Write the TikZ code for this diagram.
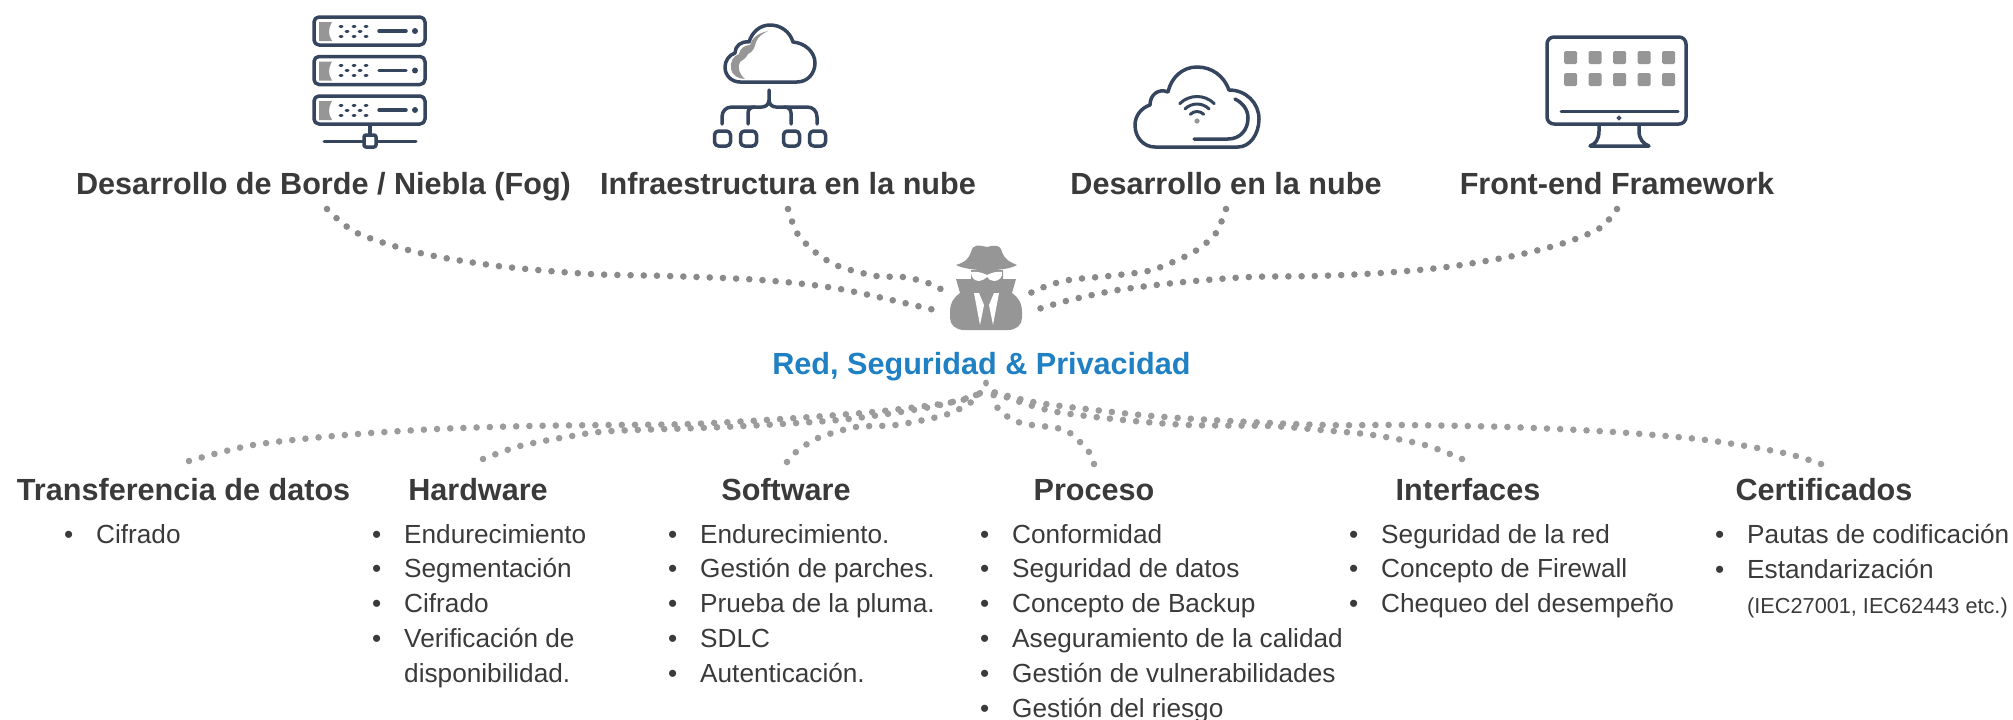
\documentclass[tikz,border=0pt]{standalone}
\usepackage{fontspec}
\setmainfont{Liberation Sans}
\definecolor{iconblue}{HTML}{35455E}
\definecolor{icongray}{HTML}{969696}
\definecolor{dotdark}{HTML}{8A8A8A}
\definecolor{dotlight}{HTML}{9C9C9C}
\definecolor{txtgray}{HTML}{3A3A3A}
\definecolor{redblue}{HTML}{1F80C4}
\newcommand{\blt}{\makebox[32pt][l]{\textbullet}}
\tikzset{
  headtxt/.style={font=\fontsize{30.6pt}{34pt}\selectfont\bfseries, text=txtgray, inner sep=0pt, anchor=base},
  itemtxt/.style={font=\fontsize{26.2pt}{34.8pt}\selectfont, text=txtgray, inner sep=0pt, align=left, anchor=north west},
  dotline/.style={draw=dotlight, line width=6.6pt, line cap=round, dash pattern=on 0pt off 13.2pt},
  icon/.style={draw=iconblue, line width=3.5pt, line cap=round, line join=round},
}
\begin{document}
\begin{tikzpicture}[x=1pt, y=-1pt]
\useasboundingbox (0,0) rectangle (2013,720);
% server icon
\foreach \y in {17,56.5,96}{
  \draw[icon, rounded corners=5pt] (314,\y) rectangle (425,\y+28);
  \fill[icongray] (319,\y+5) -- (332,\y+5) .. controls (328,\y+12) and (328,\y+18) .. (332,\y+24) -- (319,\y+24) -- cycle;
  \foreach \x in {341,354,366}{
    \draw[icon, line width=3pt] (\x-1,\y+9) -- (\x+1,\y+9) (\x-1,\y+19) -- (\x+1,\y+19);
  }
  \foreach \x in {347,360}{
    \draw[icon, line width=3pt] (\x-1,\y+14) -- (\x+1,\y+14);
  }
  \draw[icon] (379,\y+14) -- (406,\y+14);
  \fill[iconblue] (415,\y+14) circle (3pt);
}
\draw[icon, line width=3pt] (324,141) -- (416,141);
\draw[icon] (370,126) -- (370,134);
\draw[icon, fill=white, rounded corners=2pt] (364,135) rectangle (376,147);
% cloud with network
\fill[icongray] (768,31) .. controls (758,33) and (752,38) .. (750,45) .. controls (744,45) and (740,49) .. (739,54)
  .. controls (733,56) and (730,62) .. (731,69) .. controls (732,75) and (738,79) .. (745,79)
  .. controls (739,74) and (737,67) .. (740,62) .. controls (743,60) and (746,58) .. (748,54)
  .. controls (753,52) and (755,47) .. (756,42) .. controls (758,37) and (763,33) .. (768,31) -- cycle;
\draw[icon] (740,82) -- (797,82) .. controls (808,82) and (815,73) .. (815,63) .. controls (815,52) and (805,43) .. (793,42)
  .. controls (790,32) and (781,25) .. (770,25) .. controls (760,25) and (752,32) .. (749,42)
  .. controls (741,41) and (735,46) .. (735,53) .. controls (729,55) and (725,61) .. (725,67) .. controls (725,76) and (732,82) .. (740,82) -- cycle;
\draw[icon] (769,90) -- (769,100) .. controls (769,104) and (766,107) .. (762,107) -- (732,107) .. controls (726,107) and (722,111) .. (722,117) -- (722,124);
\draw[icon] (769,100) .. controls (769,104) and (772,107) .. (776,107) -- (807,107) .. controls (813,107) and (817,111) .. (817,117) -- (817,124);
\draw[icon] (748,124) -- (748,113) .. controls (748,109) and (751,107) .. (755,107);
\draw[icon] (791,124) -- (791,113) .. controls (791,109) and (788,107) .. (784,107);
\foreach \x in {714.5,740.5,783.5,809.5}{
  \draw[icon, rounded corners=4pt] (\x,131) rectangle (\x+16,146);
}
% cloud with wifi
\draw[icon] (1155,147) -- (1238,147) .. controls (1250,147) and (1259,134) .. (1259,119) .. controls (1259,103) and (1246,90) .. (1229,90)
  .. controls (1224,76) and (1212,67) .. (1197,67) .. controls (1182,67) and (1171,78) .. (1168,92)
  .. controls (1158,88) and (1150,95) .. (1150,105) .. controls (1141,108) and (1135,116) .. (1135,125) .. controls (1135,138) and (1144,147) .. (1155,147) -- cycle;
\draw[icon] (1194,139) -- (1228,139) .. controls (1240,139) and (1248,130) .. (1248,118) .. controls (1248,110) and (1243,103) .. (1235,99);
\foreach \r in {9.5,17,24.5}{
  \draw[icon, line width=3pt] (1197-.707*\r,121-.707*\r) .. controls (1197-.317*\r,121-1.097*\r) and (1197+.317*\r,121-1.097*\r) .. (1197+.707*\r,121-.707*\r);
}
\fill[icongray] (1197,121) circle (2.6pt);
% monitor
\draw[icon, rounded corners=7pt] (1547,37) rectangle (1686,124);
\foreach \x in {1564,1588.5,1613,1637.5,1662}{
  \foreach \y in {51,73}{
    \fill[icongray, rounded corners=1.5pt] (\x,\y) rectangle (\x+13,\y+13);
  }
}
\draw[icon, line width=3pt] (1561,111) -- (1678,111);
\draw[iconblue, line width=1.5pt] (1619,118) circle (1.6pt);
\draw[icon] (1599,125) -- (1599,131) .. controls (1599,140) and (1595,144) .. (1590,146) -- (1649,146) .. controls (1644,144) and (1639,140) .. (1639,131) -- (1639,125);
% spy
\fill[icongray] (956,265) .. controls (965,262) and (968,260) .. (971,252) .. controls (973,244) and (978,245) .. (987,247)
  .. controls (995,245) and (1000,244) .. (1002,252) .. controls (1005,260) and (1010,262) .. (1017,265)
  .. controls (1005,272) and (970,272) .. (956,265) -- cycle;
\fill[icongray, rounded corners=0pt] (971,270) -- (1003,270) -- (1003,279) -- (1016,279) -- (1012,293)
  .. controls (1018,297) and (1022,303) .. (1022,312) -- (1022,318) .. controls (1022,325) and (1016,330) .. (1008,330)
  -- (964,330) .. controls (956,330) and (950,325) .. (950,318) -- (950,312) .. controls (950,303) and (954,297) .. (960,293)
  -- (956,279) -- (971,279) -- cycle;
\fill[white] (971,272) .. controls (977,271) and (983,273) .. (987,275) .. controls (991,273) and (997,271) .. (1002,272)
  .. controls (1003,277) and (999,281) .. (994,281) .. controls (991,281) and (988,279) .. (987,277)
  .. controls (985,279) and (982,281) .. (979,281) .. controls (974,281) and (971,277) .. (971,272) -- cycle;
\fill[white] (974,293) -- (979,293) -- (984,305) -- (980,325) -- cycle;
\fill[white] (999,293) -- (994,293) -- (989,305) -- (993,325) -- cycle;
% labels
\node[headtxt] (edge) at (323.5,194) {Desarrollo de Borde / Niebla (Fog)};
\node[headtxt] (infra) at (788,194) {Infraestructura en la nube};
\node[headtxt] (cloud) at (1226,194) {Desarrollo en la nube};
\node[headtxt] (front) at (1617,194) {Front-end Framework};
\node[headtxt, text=redblue] (red) at (981.5,374) {Red, Seguridad \& Privacidad};
\node[headtxt] (datos) at (183.6,500) {Transferencia de datos};
\node[headtxt] (hard) at (478,500) {Hardware};
\node[headtxt] (soft) at (786,500) {Software};
\node[headtxt] (proc) at (1094,500) {Proceso};
\node[headtxt] (inter) at (1468,500) {Interfaces};
\node[headtxt] (cert) at (1824,500) {Certificados};
\node[itemtxt] (datositems) at (64,524) {\blt Cifrado};
\node[itemtxt] (harditems) at (372,524) {\blt Endurecimiento\\\blt Segmentación\\\blt Cifrado\\\blt Verificación de\\\hspace*{32pt}disponibilidad.};
\node[itemtxt] (softitems) at (668,524) {\blt Endurecimiento.\\\blt Gestión de parches.\\\blt Prueba de la pluma.\\\blt SDLC\\\blt Autenticación.};
\node[itemtxt] (procitems) at (980,524) {\blt Conformidad\\\blt Seguridad de datos\\\blt Concepto de Backup\\\blt Aseguramiento de la calidad\\\blt Gestión de vulnerabilidades\\\blt Gestión del riesgo};
\node[itemtxt] (interitems) at (1349,524) {\blt Seguridad de la red\\\blt Concepto de Firewall\\\blt Chequeo del desempeño};
\node[itemtxt] (certitems) at (1715,524) {\blt Pautas de codificación\\\blt Estandarización\\\hspace*{32pt}{\fontsize{21.7pt}{34.8pt}\selectfont (IEC27001, IEC62443 etc.)}};
% free ends of the dotted lines
\coordinate (spyleft) at (943,312);
\coordinate (spyinner) at (952,295);
\coordinate (spyright) at (1029,312);
\coordinate (spyrinner) at (1020,298);
\coordinate (hub) at (986,383);
\coordinate (hubleft) at (980,393);
\coordinate (hubright) at (993,392);
\coordinate (edgeend) at (327,209);
\coordinate (infraend) at (788,209);
\coordinate (cloudend) at (1226,209);
\coordinate (frontend) at (1617,209);
\coordinate (datosend) at (189,461);
\coordinate (hardend) at (483,459);
\coordinate (softend) at (787,462);
\coordinate (procend) at (1094,464);
\coordinate (interend) at (1462,459);
\coordinate (certend) at (1821,464);
\draw[dotline, draw=dotdark] plot [smooth] coordinates {(edgeend) (357,233) (420,253) (498,266) (590,274) (668,276) (761,280) (840,289) (spyleft)};
\draw[dotline, draw=dotdark] plot [smooth] coordinates {(infraend) (797,233) (815,252) (838,266) (876,276) (903,277) (928,283) (spyinner)};
\draw[dotline, draw=dotdark] plot [smooth] coordinates {(cloudend) (1216,233) (1197,250) (1173,262) (1148,271) (1109,276) (1069,280) (1044,287) (spyrinner)};
\draw[dotline, draw=dotdark] plot [smooth] coordinates {(frontend) (1600,228) (1564,243) (1513,256) (1447,267) (1381,273) (1316,276) (1250,277) (1184,282) (1118,290) (1066,301) (spyright)};
\fill[dotlight] (hub) ellipse (3pt and 3.5pt);
\draw[dotline] plot [smooth] coordinates {(datosend) (253,445) (345,435) (437,429) (529,426) (609,425) (690,424) (781,419) (873,412) (954,402) (hubleft)};
\draw[dotline] plot [smooth] coordinates {(hardend) (520,446) (572,436) (612,431) (724,427) (839,420) (925,408) (971,397) (hubleft)};
\draw[dotline] plot [smooth] coordinates {(softend) (796,452) (818,438) (856,427) (896,425) (945,415) (970,403) (hubleft)};
\draw[dotline] plot [smooth] coordinates {(procend) (1089,452) (1080,442) (1070,433) (1057,428) (1032,425) (1018,422) (1005,415) (997,407) (hubright)};
\draw[dotline] plot [smooth] coordinates {(interend) (1425,445) (1373,435) (1321,430) (1270,426) (1189,425) (1123,420) (1057,412) (1020,402) (hubright)};
\draw[dotline] plot [smooth] coordinates {(certend) (1784,453) (1706,440) (1614,432) (1508,427) (1402,425) (1324,425) (1230,421) (1152,416) (1086,409) (1033,402) (hubright)};
\end{tikzpicture}
\end{document}
